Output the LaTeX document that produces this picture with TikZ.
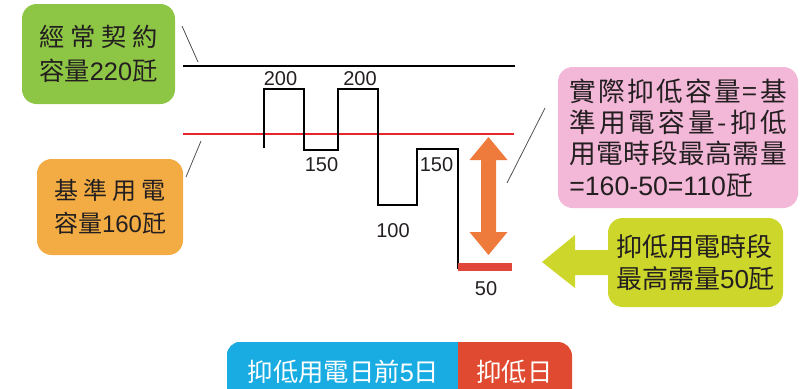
\documentclass[tikz,border=0pt]{standalone}
\usepackage{fontspec}
\setmainfont{Noto Sans CJK TC}
\newfontfamily\latn{Liberation Sans}

\definecolor{contractgreen}{HTML}{8DC544}
\definecolor{basisorange}{HTML}{F3AC43}
\definecolor{reducepink}{HTML}{F3B7D7}
\definecolor{peaklime}{HTML}{CDD62B}
\definecolor{arroworange}{HTML}{EE7B3B}
\definecolor{peakred}{HTML}{E0463A}
\definecolor{basisred}{HTML}{E8262A}
\definecolor{prevblue}{HTML}{18ACE3}
\definecolor{dayred}{HTML}{E04A30}
\definecolor{txtgray}{HTML}{231F20}
\definecolor{leadgray}{HTML}{505050}

\tikzset{
  callout/.style={rounded corners=11pt, text=txtgray, align=left, inner sep=0pt},
  chartnum/.style={font=\latn\fontsize{15}{15}\selectfont, text=txtgray, inner sep=0pt},
  daytext/.style={font=\fontsize{19}{19}\selectfont, text=white, inner sep=0pt},
  leader/.style={draw=leadgray, line width=0.6pt},
  stepline/.style={draw=black, line width=1.3pt},
}
\newcommand\spreadline[1]{\makebox[\hsize][s]{\spaceskip=0pt plus 1fil\relax #1}}

\begin{document}
\begin{tikzpicture}[x=0.75pt, y=-0.75pt]
  \useasboundingbox (0,0) rectangle (807,389);

  % boxes on the left
  \node[callout, fill=contractgreen, minimum width=114.75pt, minimum height=75pt,
        text width=89pt, font=\fontsize{19}{26}\selectfont] (contract) at (98.5,54)
        {\spreadline{經 常 契 約}\\容量{\latn 220}瓩};
  \node[callout, fill=basisorange, minimum width=109.5pt, minimum height=72pt,
        text width=84pt, font=\fontsize{18}{25}\selectfont] (basis) at (110,207)
        {\spreadline{基 準 用 電}\\容量{\latn 160}瓩};
  \draw[leader] (182,26) -- (198,62);
  \draw[leader] (201,141) -- (186,177);

  % capacity lines
  \draw[line width=1.4pt] (183,66) -- (515,66);
  \draw[draw=basisred, line width=1.1pt] (183,134) -- (514,134);

  % demand curve
  \draw[stepline] (264,148) |- (304,89) |- (338,150) |- (378,89) |- (417,205) |- (458,149) -- (458,269);
  \fill[peakred] (458,263) rectangle (512,270.5);
  \node[chartnum] (d1) at (280.5,78.5) {200};
  \node[chartnum] (d2) at (321.5,165) {150};
  \node[chartnum] (d3) at (360,78.5) {200};
  \node[chartnum] (d4) at (393,230.5) {100};
  \node[chartnum] (d5) at (436.5,165) {150};
  \node[chartnum] (d6) at (486,288.5) {50};

  % reduction arrow
  \fill[arroworange] (488.5,137) -- (507.5,160) -- (496,160) -- (496,232) -- (507.5,232)
    -- (488.5,255) -- (469.5,232) -- (481,232) -- (481,160) -- (469.5,160) -- cycle;

  % boxes on the right
  \node[callout, fill=reducepink, minimum width=180pt, minimum height=105.75pt,
        text width=163pt, font=\fontsize{20}{23.5}\selectfont] (reduce) at (678,137.5)
        {\spreadline{實 際 抑 低 容 量 = 基}\\\spreadline{準 用 電 容 量 - 抑 低}\\
         \spreadline{用 電 時 段 最 高 需 量}\\{\latn =160-50=110}瓩};
  \draw[leader] (545,108) -- (507,183);
  \fill[peaklime] (612,250) -- (575,250) -- (575,235) -- (542,262) -- (575,288)
    -- (575,275) -- (612,275) -- cycle;
  \node[callout, fill=peaklime, minimum width=131.25pt, minimum height=66.75pt,
        font=\fontsize{19.5}{24}\selectfont] (peak) at (695.5,262.5)
        {抑低用電時段\\最高需量{\latn 50}瓩};

  % day bar
  \node[fill=dayred, rounded corners=10.5pt, minimum width=258.75pt, minimum height=46.5pt,
        inner sep=0pt] (bar) at (399.5,373) {};
  \begin{scope}
    \clip[rounded corners=10.5pt] (bar.south west) rectangle (bar.north east);
    \fill[prevblue] (bar.south west) rectangle (458,342);
  \end{scope}
  \node[daytext] (prevdays) at (343.5,372) {抑低用電日前{\latn 5}日};
  \node[daytext] (cutday) at (514.5,372) {抑低日};
\end{tikzpicture}
\end{document}
